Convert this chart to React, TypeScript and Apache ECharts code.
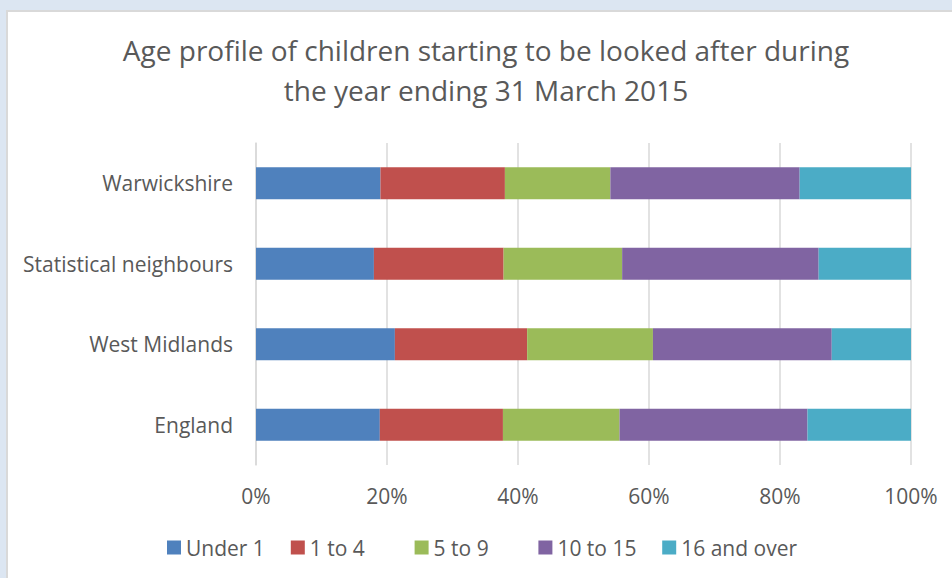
import React, { useEffect, useRef } from "react";
import * as echarts from "echarts";

const titleLines = [
  "Age profile of children starting to be looked after during",
  "the year ending 31 March 2015",
];
const categories = ["Warwickshire", "Statistical neighbours", "West Midlands", "England"];
const seriesNames = ["Under 1", "1 to 4", "5 to 9", "10 to 15", "16 and over"];
const under1 = [19.0, 18.0, 21.2, 18.9];
const oneToFour = [19.0, 19.8, 20.2, 18.8];
const fiveToNine = [16.1, 18.1, 19.2, 17.8];
const tenToFifteen = [28.9, 30.0, 27.3, 28.7];
const sixteenPlus = [17.0, 14.1, 12.1, 15.8];
const xTicks = { min: 0, max: 100, interval: 20 };
const colors = ["#4f81bd", "#c0504d", "#9bbb59", "#8064a2", "#4bacc6"];

const FONT = "'Open Sans', 'DejaVu Sans', sans-serif";
const TEXT = "#595959";

export default function App() {
  const ref = useRef<HTMLDivElement>(null);
  useEffect(() => {
    if (!ref.current) return;
    const chart = echarts.init(ref.current, null, { renderer: "svg" });
    const values = [under1, oneToFour, fiveToNine, tenToFifteen, sixteenPlus];
    chart.setOption({
      animation: false,
      color: colors,
      graphic: [
        {
          type: "text",
          x: 486,
          y: 30,
          style: {
            text: titleLines.join("\n"),
            fontFamily: FONT,
            fontSize: 28,
            lineHeight: 40,
            fill: TEXT,
            align: "center",
            verticalAlign: "top",
          },
        },
      ],
      grid: { left: 256, right: 41, top: 143, bottom: 113, containLabel: false },
      xAxis: {
        type: "value",
        min: xTicks.min,
        max: xTicks.max,
        interval: xTicks.interval,
        axisLine: { show: false },
        axisTick: { show: false },
        splitLine: { show: true, lineStyle: { color: "#d9d9d9", width: 1.5 } },
        axisLabel: {
          formatter: "{value}%",
          fontFamily: FONT,
          fontSize: 21,
          color: TEXT,
          margin: 20,
        },
      },
      yAxis: {
        type: "category",
        inverse: true,
        data: categories,
        axisLine: { show: true, lineStyle: { color: "#d9d9d9", width: 1.5 } },
        axisTick: { show: false },
        axisLabel: { fontFamily: FONT, fontSize: 21, color: TEXT, margin: 23 },
      },
      legend: seriesNames.map((name, i) => ({
        left: 167 + i * 123.8,
        top: 537,
        padding: 0,
        icon: "rect",
        itemWidth: 14,
        itemHeight: 14,
        data: [name],
        textStyle: { fontFamily: FONT, fontSize: 21, color: TEXT },
      })),
      series: seriesNames.map((name, i) => ({
        name,
        type: "bar",
        stack: "total",
        barWidth: 32,
        data: values[i],
        itemStyle: { color: colors[i] },
      })),
    });
    return () => chart.dispose();
  }, []);
  return (
    <div style={{ position: "fixed", left: 0, top: 0, width: 952, height: 578, background: "#dce6f2", overflow: "hidden" }}>
      <div
        style={{
          position: "absolute",
          left: 6,
          top: 10,
          width: 960,
          height: 590,
          background: "#ffffff",
          border: "2px solid #d9d9d9",
        }}
      />
      <div ref={ref} style={{ position: "absolute", left: 0, top: 0, width: 952, height: 578 }} />
    </div>
  );
}
